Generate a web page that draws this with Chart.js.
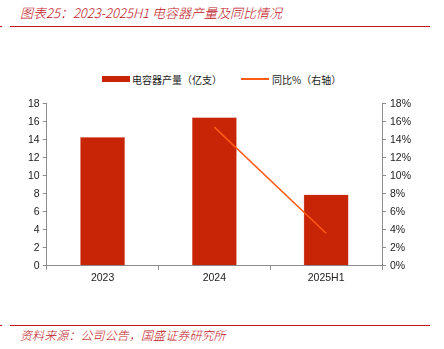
<!DOCTYPE html>
<html>
<head>
<meta charset="utf-8">
<script src="https://cdn.jsdelivr.net/npm/chart.js@4"></script>
<style>
    body { margin: 0; width: 444px; height: 349px; background: #fff; position: relative; overflow: hidden; font-family: "Noto Sans CJK SC", sans-serif; }
    .title { position: absolute; left: 20px; top: 3px; font-size: 13px; font-style: italic; font-weight: 300; color: #c0141c; white-space: nowrap; }
    .rule { position: absolute; left: 10px; width: 420px; height: 1px; background: #c0141c; }
    .dot { position: absolute; left: 0; width: 2px; height: 1px; background: #c0141c; }
    .source { position: absolute; left: 20px; top: 326px; font-size: 12px; letter-spacing: 0.1px; font-style: italic; font-weight: 300; color: #c0141c; white-space: nowrap; }
    .legend { position: absolute; top: 70px; font-size: 10px; color: #222; white-space: nowrap; }
    .legend span { display: inline-block; vertical-align: middle; }
    #wrap { position: absolute; left: 0; top: 90px; width: 444px; height: 200px; }
</style>
</head>
<body>
<div class="title">图表25：2023-2025H1 电容器产量及同比情况</div>
<div class="rule" style="top:26px"></div>
<div class="dot" style="top:26px"></div>

<div class="legend" style="left:102px"><span style="width:28px;height:6px;background:#c82506"></span><span style="margin-left:2px">电容器产量（亿支）</span></div>
<div class="legend" style="left:241px"><span style="width:28px;height:2px;background:#ff5b14"></span><span style="margin-left:3px">同比%（右轴）</span></div>

<div id="wrap"><canvas id="chart"></canvas></div>

<div class="rule" style="top:325px"></div>
<div class="dot" style="top:325px"></div>
<div class="source">资料来源：公司公告，国盛证券研究所</div>

<script>
const categories = ['2023', '2024', '2025H1'];
const output = [14.3, 16.5, 7.9];
const yoy = [null, 15.4, 3.6];
const leftTicks = [0, 2, 4, 6, 8, 10, 12, 14, 16, 18];

const axisColor = '#8c8c8c';
const tickFont = { family: 'Liberation Sans', size: 10.5 };

new Chart(document.getElementById('chart'), {
    data: {
        labels: categories,
        datasets: [
            {
                type: 'line',
                label: '同比%（右轴）',
                data: yoy,
                yAxisID: 'y1',
                borderColor: '#ff5b14',
                borderWidth: 1.5,
                pointRadius: 0,
                tension: 0,
                order: 0
            },
            {
                type: 'bar',
                label: '电容器产量（亿支）',
                data: output,
                yAxisID: 'y',
                backgroundColor: '#c82506',
                borderColor: '#e8a090',
                borderWidth: 0.5,
                barPercentage: 0.403,
                categoryPercentage: 1,
                order: 1
            }
        ]
    },
    options: {
        responsive: true,
        maintainAspectRatio: false,
        animation: false,
        layout: { padding: { top: 13.7, left: 0, right: 0, bottom: 0 } },
        plugins: { legend: { display: false }, tooltip: { enabled: false } },
        scales: {
            x: {
                offset: true,
                grid: { offset: true, drawOnChartArea: false, drawTicks: true, tickLength: 4, color: axisColor },
                border: { color: axisColor, width: 1 },
                ticks: { color: '#222', font: tickFont, padding: 2 },
                afterFit: (s) => { s.height = 24.3; }
            },
            y: {
                position: 'left',
                min: 0,
                max: 18,
                afterBuildTicks: (s) => { s.ticks = leftTicks.map((v) => ({ value: v })); },
                grid: { drawOnChartArea: false, drawTicks: true, tickLength: 4, color: axisColor },
                border: { color: axisColor, width: 1 },
                ticks: { color: '#222', font: tickFont, padding: 3 },
                afterFit: (s) => { s.width = 46.7; }
            },
            y1: {
                position: 'right',
                min: 0,
                max: 18,
                afterBuildTicks: (s) => { s.ticks = leftTicks.map((v) => ({ value: v })); },
                grid: { drawOnChartArea: false, drawTicks: true, tickLength: 4, color: axisColor },
                border: { color: axisColor, width: 1 },
                ticks: { color: '#222', font: tickFont, padding: 4, callback: (v) => v + '%' },
                afterFit: (s) => { s.width = 62; }
            }
        }
    }
});
</script>
</body>
</html>
